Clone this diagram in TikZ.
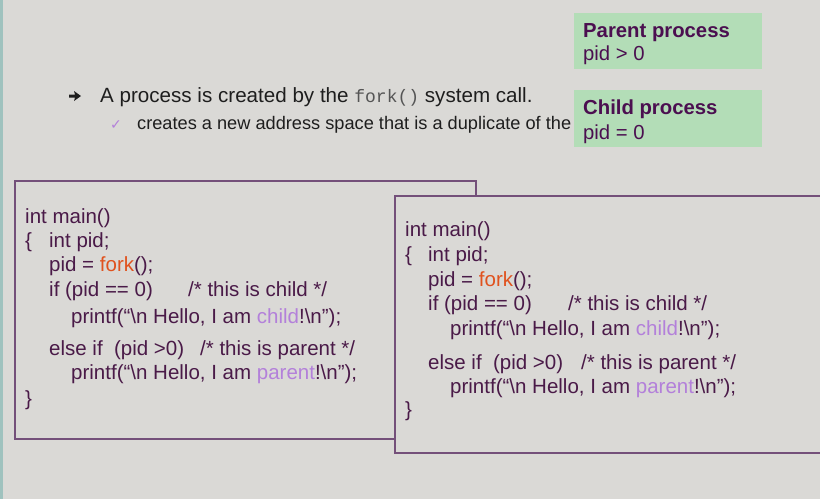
\documentclass[tikz,border=0pt]{standalone}
\usepackage{fontspec}
\setmainfont{Liberation Sans}
\setmonofont{Liberation Mono}
\newfontfamily\symfont{DejaVu Sans}
\usetikzlibrary{arrows.meta}
\definecolor{bgc}{HTML}{DAD9D6}
\definecolor{strip}{HTML}{9FC2BE}
\definecolor{codec}{HTML}{4A1A48}
\definecolor{titlec}{HTML}{4B0F50}
\definecolor{boxline}{HTML}{74507A}
\definecolor{greenbox}{HTML}{B3DDB7}
\definecolor{forkc}{HTML}{E0521E}
\definecolor{lilac}{HTML}{B380DA}
\definecolor{textc}{HTML}{1E1E1E}
\definecolor{monoc}{HTML}{555555}
\tikzset{
  code/.style={anchor=base west, inner sep=0pt, font=\fontsize{20.5}{24}\selectfont, text=codec},
  info/.style={anchor=base west, inner sep=0pt, font=\fontsize{20.3}{24}\selectfont, text=titlec},
  bul/.style={anchor=base west, inner sep=0pt, text=textc},
  codebox/.style={draw=boxline, line width=1.1pt, fill=bgc},
  greenrect/.style={fill=greenbox, draw=none}
}
\newcommand{\fk}{\textcolor{forkc}{fork}}
\newcommand{\ch}{\textcolor{lilac}{child}}
\newcommand{\pa}{\textcolor{lilac}{parent}}
\begin{document}
\begin{tikzpicture}[x=1pt,y=-1pt]
\fill[bgc] (0,0) rectangle (820,499);
\useasboundingbox (0,0) rectangle (820,499);
\fill[strip] (0,0) rectangle (3,499);

% bullets
\fill[textc] (69,94.5) -- (75,94.5) -- (74,91) -- (81,96) -- (74,101) -- (75,97.5) -- (69,97.5) -- cycle;
\node[bul, font=\fontsize{20.6}{24}\selectfont] (b1) at (100,102) {A process is created by the \textcolor{monoc}{\fontsize{18}{20}\ttfamily fork()} system call.};
\node[anchor=base west, inner sep=0pt, text=lilac, font=\symfont\fontsize{14}{16}\selectfont] (ck) at (110,129) {✓};
\node[bul, font=\fontsize{18.2}{22}\selectfont] (b2) at (137,129) {creates a new address space that is a duplicate of the};

% green boxes
\node[greenrect, minimum width=188pt, minimum height=56pt, anchor=north west] (pbox) at (574,13) {};
\node[info, font=\fontsize{20.3}{24}\selectfont\bfseries] (pt) at (583,37) {Parent process};
\node[info] (pv) at (583,60) {pid > 0};
\node[greenrect, minimum width=188pt, minimum height=57pt, anchor=north west] (cbox) at (574,90) {};
\node[info, font=\fontsize{20.3}{24}\selectfont\bfseries] (ct) at (583,114) {Child process};
\node[info] (cv) at (583,139) {pid = 0};

% left code box
\draw[codebox] (15,181) rectangle (476,439);
\node[code] (l1) at (25,223) {int main()};
\node[code] (l2) at (25,247.5) {\makebox[24pt][l]{\{}int pid;};
\node[code] (l3) at (49,271.5) {pid = \fk();};
\node[code] (l4) at (49,296) {\makebox[139pt][l]{if (pid == 0)}/* this is child */};
\node[code] (l5) at (71,323) {printf(“\textbackslash n Hello, I am \ch!\textbackslash n”);};
\node[code] (l6) at (49,355) {\makebox[151pt][l]{else if\ \ (pid >0)}/* this is parent */};
\node[code] (l7) at (71,379) {printf(“\textbackslash n Hello, I am \pa!\textbackslash n”);};
\node[code] (l8) at (25,405) {\}};

% right code box
\draw[codebox] (395,196) rectangle (830,453);
\node[code] (r1) at (405,236) {int main()};
\node[code] (r2) at (405,261) {\makebox[23pt][l]{\{}int pid;};
\node[code] (r3) at (428,286) {pid = \fk();};
\node[code] (r4) at (428,310) {\makebox[140pt][l]{if (pid == 0)}/* this is child */};
\node[code] (r5) at (450,335) {printf(“\textbackslash n Hello, I am \ch!\textbackslash n”);};
\node[code] (r6) at (428,369) {\makebox[153pt][l]{else if\ \ (pid >0)}/* this is parent */};
\node[code] (r7) at (450,393) {printf(“\textbackslash n Hello, I am \pa!\textbackslash n”);};
\node[code] (r8) at (405,416) {\}};
\end{tikzpicture}
\end{document}
